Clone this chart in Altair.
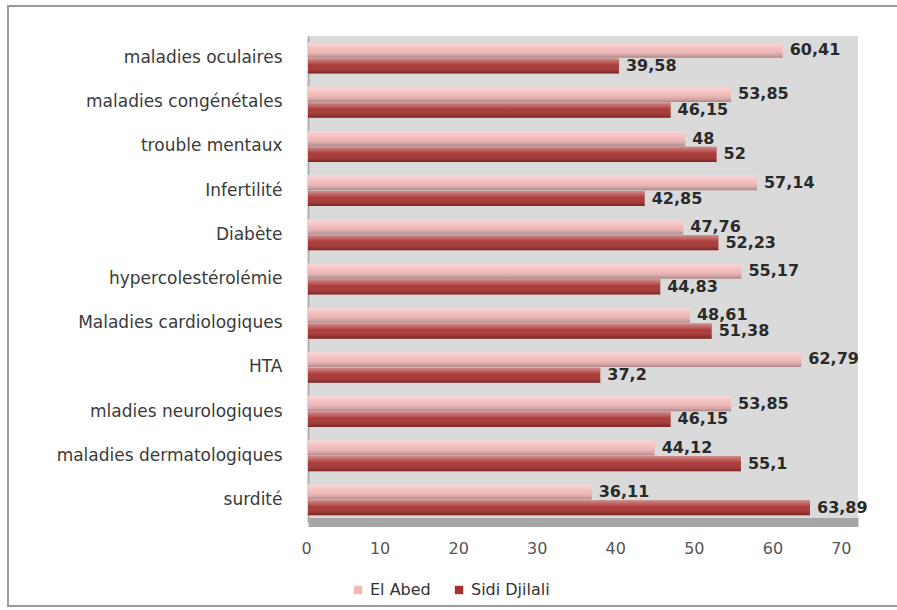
import altair as alt
import pandas as pd

categories = [
    "maladies oculaires",
    "maladies congénétales",
    "trouble mentaux",
    "Infertilité",
    "Diabète",
    "hypercolestérolémie",
    "Maladies cardiologiques",
    "HTA",
    "mladies neurologiques",
    "maladies dermatologiques",
    "surdité",
]
el_abed = [60.41, 53.85, 48, 57.14, 47.76, 55.17, 48.61, 62.79, 53.85, 44.12, 36.11]
sidi_djilali = [39.58, 46.15, 52, 42.85, 52.23, 44.83, 51.38, 37.2, 46.15, 55.1, 63.89]
series = ["El Abed", "Sidi Djilali"]
series_colors = ["#f2b8b8", "#a8302e"]
x_ticks = [0, 10, 20, 30, 40, 50, 60, 70]

rows = []
for c, a, s in zip(categories, el_abed, sidi_djilali):
    rows.append({"cat": c, "serie": series[0], "v": a, "label": f"{a:g}".replace(".", ",")})
    rows.append({"cat": c, "serie": series[1], "v": s, "label": f"{s:g}".replace(".", ",")})
df = pd.DataFrame(rows)

y = alt.Y(
    "cat:N",
    sort=categories,
    scale=alt.Scale(paddingInner=0.3, paddingOuter=0.15),
    axis=alt.Axis(
        title=None, ticks=False, domainColor="#b0b0b0", domainWidth=2,
        labelFont="DejaVu Sans", labelFontSize=17, labelColor="#3a3a3a",
        labelPadding=26, labelLimit=320,
    ),
)
yoff = alt.YOffset("serie:N", sort=series, scale=alt.Scale(paddingInner=0.04))
x = alt.X(
    "v:Q",
    scale=alt.Scale(domain=[0, 70], nice=False),
    axis=alt.Axis(
        values=x_ticks, title=None, grid=False, ticks=False,
        labelPadding=18, labelOffset=-7, labelFont="DejaVu Sans", labelFontSize=16,
        labelColor="#555555", domainColor="#a6a6a6", domainWidth=9,
    ),
)

base = alt.Chart(df)

bars = base.mark_bar().encode(
    x=x, y=y, yOffset=yoff,
    color=alt.Color(
        "serie:N",
        sort=series,
        scale=alt.Scale(domain=series, range=series_colors),
        legend=alt.Legend(
            title=None, orient="none", direction="horizontal",
            legendX=42, legendY=546, symbolType="square", symbolSize=70,
            labelFont="DejaVu Sans", labelFontSize=16, labelColor="#333333",
            columnPadding=20, symbolStrokeWidth=0,
        ),
    ),
)

shine = base.mark_bar(
    fill=alt.Gradient(
        gradient="linear",
        x1=0, x2=0, y1=0, y2=1,
        stops=[
            alt.GradientStop(color="rgba(255,255,255,0.45)", offset=0),
            alt.GradientStop(color="rgba(255,255,255,0.05)", offset=0.45),
            alt.GradientStop(color="rgba(0,0,0,0.28)", offset=1),
        ],
    )
).encode(x=x, y=y, yOffset=yoff)

labels = base.mark_text(
    align="left", baseline="middle", dx=7, font="DejaVu Sans",
    fontWeight="bold", fontSize=16, color="#2a2a2a",
).encode(x=x, y=y, yOffset=yoff, text="label:N")

frame = alt.Chart(pd.DataFrame({"f": [0]})).mark_rect(
    filled=False, stroke="#9a9a9a", strokeWidth=2
).encode(
    x=alt.value(-300), x2=alt.value(660), y=alt.value(-30), y2=alt.value(570)
)

chart = alt.layer(frame, bars, shine, labels).properties(
    width=550,
    height=486,
    padding={"left": 308, "top": 36, "right": 39, "bottom": 88},
    autosize="none",
    background="white",
).configure_view(fill="#dadada", stroke=None)

chart.save("out.html", embed_options={"renderer": "svg", "actions": False})
